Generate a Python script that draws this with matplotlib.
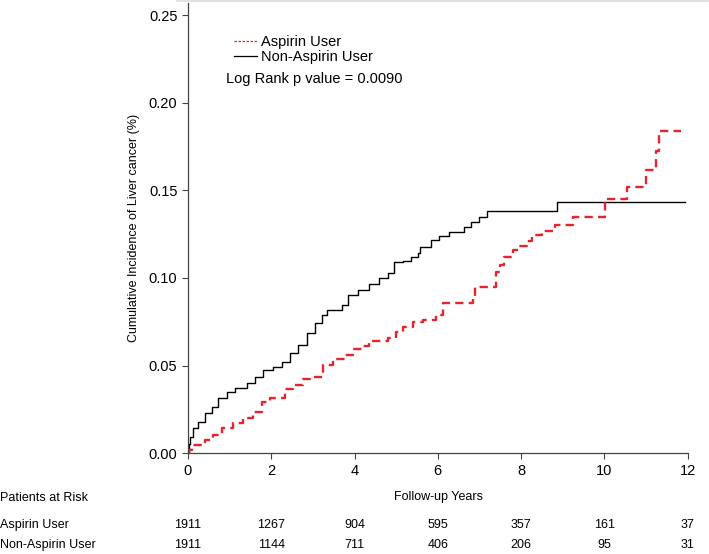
import matplotlib
matplotlib.use("Agg")
import matplotlib.pyplot as plt
from matplotlib.lines import Line2D

plt.rcParams['font.family'] = ['Liberation Sans', 'DejaVu Sans']

# Kaplan-Meier style cumulative incidence
non_t = [0, 0.02, 0.05, 0.13, 0.25, 0.41, 0.57, 0.73, 0.93, 1.13, 1.41, 1.61, 1.81,
         2.05, 2.25, 2.45, 2.65, 2.85, 3.05, 3.21, 3.33, 3.69, 3.84, 4.08, 4.36, 4.6,
         4.8, 4.96, 5.16, 5.36, 5.52, 5.58, 5.83, 6.04, 6.28, 6.62, 6.80, 6.99, 7.18,
         8.86, 11.93]
non_v = [0, 0.005, 0.0093, 0.0141, 0.0179, 0.0227, 0.0265, 0.0313, 0.035, 0.037,
         0.0398, 0.0436, 0.0474, 0.0493, 0.0522, 0.057, 0.0617, 0.0684, 0.0741, 0.0789,
         0.0817, 0.0846, 0.0903, 0.0931, 0.0966, 0.0998, 0.1027, 0.1088, 0.1099, 0.1122,
         0.114, 0.1175, 0.1217, 0.1242, 0.126, 0.1288, 0.1318, 0.1347, 0.138, 0.1434,
         0.1434]

asp_t = [0, 0.03, 0.09, 0.41, 0.61, 0.81, 1.09, 1.33, 1.57, 1.77, 1.97, 2.33, 2.53,
         2.77, 2.93, 3.24, 3.48, 3.77, 3.96, 4.17, 4.36, 4.8, 5.0, 5.16, 5.4, 5.64,
         5.96, 6.12, 6.84, 6.9, 7.4, 7.5, 7.6, 7.8, 7.96, 8.15, 8.27, 8.5, 8.82, 9.25,
         10.02, 10.54, 11.0, 11.24, 11.32, 11.84]
asp_v = [0, 0.002, 0.0046, 0.0074, 0.0103, 0.0141, 0.0173, 0.0198, 0.0236, 0.0293,
         0.0313, 0.0364, 0.0389, 0.0421, 0.0436, 0.0503, 0.0535, 0.056, 0.0592, 0.0611,
         0.0642, 0.066, 0.0693, 0.0722, 0.075, 0.076, 0.0789, 0.0855, 0.0884, 0.095,
         0.1036, 0.1074, 0.112, 0.116, 0.118, 0.121, 0.1244, 0.1269, 0.130, 0.1345,
         0.145, 0.1518, 0.1613, 0.1727, 0.184, 0.184]

risk_years = [0, 2, 4, 6, 8, 10, 12]
risk_asp = [1911, 1267, 904, 595, 357, 161, 37]
risk_non = [1911, 1144, 711, 406, 206, 95, 31]

red = '#e3262d'

fig = plt.figure(figsize=(7.09, 5.54), dpi=100)
ax = fig.add_axes([0.265, 0.182, 0.705, 0.813])

ax.plot(non_t, non_v, drawstyle='steps-post', color='black', lw=1.0)
ax.plot(asp_t, asp_v, drawstyle='steps-post', color=red, lw=1.7, dashes=(3.5, 2.2))

ax.set_xlim(0, 12)
ax.set_ylim(0, 0.257)
ax.set_xticks(risk_years)
ax.set_yticks([0, 0.05, 0.10, 0.15, 0.20, 0.25])
ax.set_yticklabels(['0.00', '0.05', '0.10', '0.15', '0.20', '0.25'])
ax.tick_params(direction='out', length=4, width=0.8, labelsize=10.5, color='#444444')
for s in ['top', 'right']:
    ax.spines[s].set_visible(False)
for s in ['left', 'bottom']:
    ax.spines[s].set_color('#444444')
    ax.spines[s].set_linewidth(0.9)

ax.set_ylabel('Cumulative Incidence of Liver cancer (%)', fontsize=9, labelpad=6)

handles = [Line2D([], [], color=red, lw=0.9, dashes=(2, 1.2)),
           Line2D([], [], color='black', lw=0.9)]
ax.legend(handles, ['Aspirin User', 'Non-Aspirin User'], loc='upper left',
          bbox_to_anchor=(0.08, 0.942), frameon=False, fontsize=10.5,
          handlelength=1.6, handletextpad=0.3, labelspacing=0.12, borderaxespad=0)
ax.text(0.077, 0.831, 'Log Rank p value = 0.0090', transform=ax.transAxes,
        fontsize=10.5, va='center', ha='left')

# at-risk table and x label
fig.text(438 / 709, 1 - 497 / 554, 'Follow-up Years', ha='center', va='center', fontsize=9)
fig.text(0.0, 1 - 498 / 554, 'Patients at Risk', ha='left', va='center', fontsize=9)
fig.text(0.0, 1 - 525 / 554, 'Aspirin User', ha='left', va='center', fontsize=9)
fig.text(0.0, 1 - 545 / 554, 'Non-Aspirin User', ha='left', va='center', fontsize=9)
for yr, a, n in zip(risk_years, risk_asp, risk_non):
    xf = ax.transData.transform((yr, 0))[0] / fig.bbox.width
    fig.text(xf, 1 - 525 / 554, str(a), ha='center', va='center', fontsize=9)
    fig.text(xf, 1 - 545 / 554, str(n), ha='center', va='center', fontsize=9)

fig.add_artist(Line2D([0.25, 0.998], [0.998, 0.998], color='#dddddd', lw=1.2,
                      transform=fig.transFigure))

fig.savefig('out.png', dpi=100)
